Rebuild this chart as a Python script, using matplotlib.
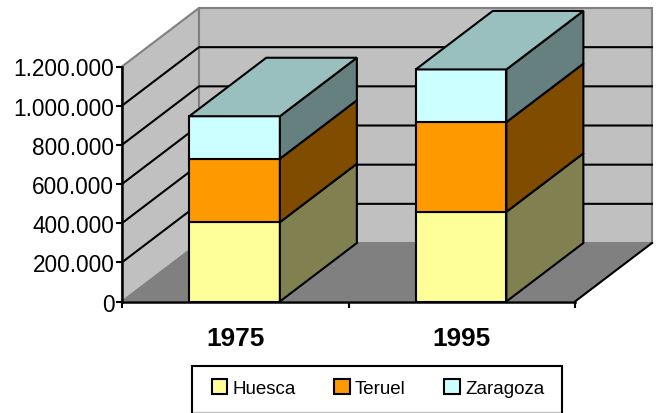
import matplotlib
matplotlib.use("Agg")
import matplotlib.pyplot as plt
from matplotlib.patches import Polygon, Patch, Rectangle
from matplotlib.lines import Line2D
from matplotlib.ticker import FuncFormatter, FixedLocator

plt.rcParams['font.family'] = ['Liberation Sans', 'DejaVu Sans']

# Data
categories = ['1975', '1995']
huesca = [405000, 458000]
teruel = [324000, 458000]
zaragoza = [217000, 269000]
series_names = ['Huesca', 'Teruel', 'Zaragoza']
series_values = [huesca, teruel, zaragoza]
y_ticks = [0, 200000, 400000, 600000, 800000, 1000000, 1200000]

# Styles
front_colors = ['#FFFF99', '#FF9900', '#CCFFFF']
side_colors = ['#808050', '#804D00', '#668080']
top_color = '#99C0BF'
wall = '#C0C0C0'
floor = '#808080'
W, H = 658, 414
L, R, B, T = 122, 575, 302.5, 67.5
YMAX = 1200000
BW = 0.40
DX = 77 / (R - L) * 2
DY = 58.5 / (B - T) * YMAX
LW = 1.5

fig = plt.figure(figsize=(W / 100, H / 100), dpi=100)
ax = fig.add_axes([L / W, 1 - B / H, (R - L) / W, (B - T) / H])
ax.set_xlim(-0.5, 1.5)
ax.set_ylim(0, YMAX)
ax.patch.set_visible(False)
x0, x1 = ax.get_xlim()


def poly(pts, fc, ec='none', lw=0, z=1):
    ax.add_patch(Polygon(pts, closed=True, facecolor=fc, edgecolor=ec,
                         linewidth=lw, clip_on=False, zorder=z, joinstyle='miter'))


# Walls and floor
poly([(x0, 0), (x0, YMAX), (x0 + DX, YMAX + DY), (x0 + DX, DY)], wall, '#808080', LW, 1)
poly([(x0 + DX, DY), (x0 + DX, YMAX + DY), (x1 + DX, YMAX + DY), (x1 + DX, DY)], wall, '#808080', LW, 1)
poly([(x0, 0), (x1, 0), (x1 + DX, DY), (x0 + DX, DY)], floor, 'none', 0, 1.5)

# Gridlines on both walls
for v in y_ticks[1:-1]:
    ax.plot([x0, x0 + DX, x1 + DX], [v, v + DY, v + DY], color='black', lw=LW,
            clip_on=False, zorder=2, solid_joinstyle='miter')
ax.plot([x1, x1 + DX], [0, DY], color='black', lw=LW, clip_on=False, zorder=2)

# Stacked bars with depth
for i, cat in enumerate(categories):
    base = 0
    xl, xr = i - BW / 2 - 0.003, i + BW / 2 - 0.003
    for s, vals in enumerate(series_values):
        top = base + vals[i]
        ax.bar(i - 0.003, vals[i], BW, bottom=base, color=front_colors[s], edgecolor='black',
               linewidth=LW, zorder=5 + i)
        poly([(xr, base), (xr + DX, base + DY), (xr + DX, top + DY), (xr, top)],
             side_colors[s], 'black', LW, 5 + i)
        base = top
    poly([(xl, base), (xr, base), (xr + DX, base + DY), (xl + DX, base + DY)],
         top_color, 'black', LW, 5 + i)

# Axes
for sp in ['top', 'right']:
    ax.spines[sp].set_visible(False)
for sp in ['left', 'bottom']:
    ax.spines[sp].set_linewidth(1.8)
    ax.spines[sp].set_zorder(20)
ax.set_yticks(y_ticks)
ax.yaxis.set_major_formatter(FuncFormatter(lambda v, _: f'{int(v):,}'.replace(',', '.')))
ax.tick_params(axis='y', length=4.5, width=LW, labelsize=16.3, pad=1, colors='black')
ax.xaxis.set_major_locator(FixedLocator([-0.5, 0.5, 1.5]))
ax.set_xticklabels([])
ax.set_xticks([0, 1], minor=True)
ax.set_xticklabels(categories, minor=True, fontweight='bold', fontsize=18.9)
ax.tick_params(axis='x', which='major', length=4.5, width=LW)
ax.tick_params(axis='x', which='minor', length=0, pad=18)

# Legend box (its lower edge sits at the picture's bottom)
LBX0, LBX1, LBY0, LBY1 = 192, 562, 366.5, 413
fx = lambda px: px / W
fy = lambda py: 1 - py / H
fig.add_artist(Rectangle((fx(LBX0), fy(LBY1)), (LBX1 - LBX0) / W, (LBY1 - LBY0) / H,
                         transform=fig.transFigure, facecolor='white', edgecolor='none'))
fig.add_artist(Line2D([fx(LBX0), fx(LBX1)], [fy(LBY1), fy(LBY1)], color='#C0C0C0', lw=1,
                      transform=fig.transFigure))
fig.add_artist(Line2D([fx(LBX0), fx(LBX0), fx(LBX1), fx(LBX1)],
                      [fy(LBY1), fy(LBY0), fy(LBY0), fy(LBY1)], color='black', lw=LW,
                      transform=fig.transFigure, solid_joinstyle='miter'))

handles = [Patch(facecolor=c, edgecolor='black', linewidth=LW, label=n)
           for c, n in zip(front_colors, series_names)]
leg = fig.legend(handles=handles, loc='center left',
                 bbox_to_anchor=(fx(212), fy(389)),
                 ncols=3, fontsize=13.5, frameon=False, borderaxespad=0, borderpad=0,
                 handlelength=0.82, handleheight=0.82, handletextpad=0.28,
                 columnspacing=2.05)
leg.set_zorder(10)

fig.savefig('out.png', dpi=100)
